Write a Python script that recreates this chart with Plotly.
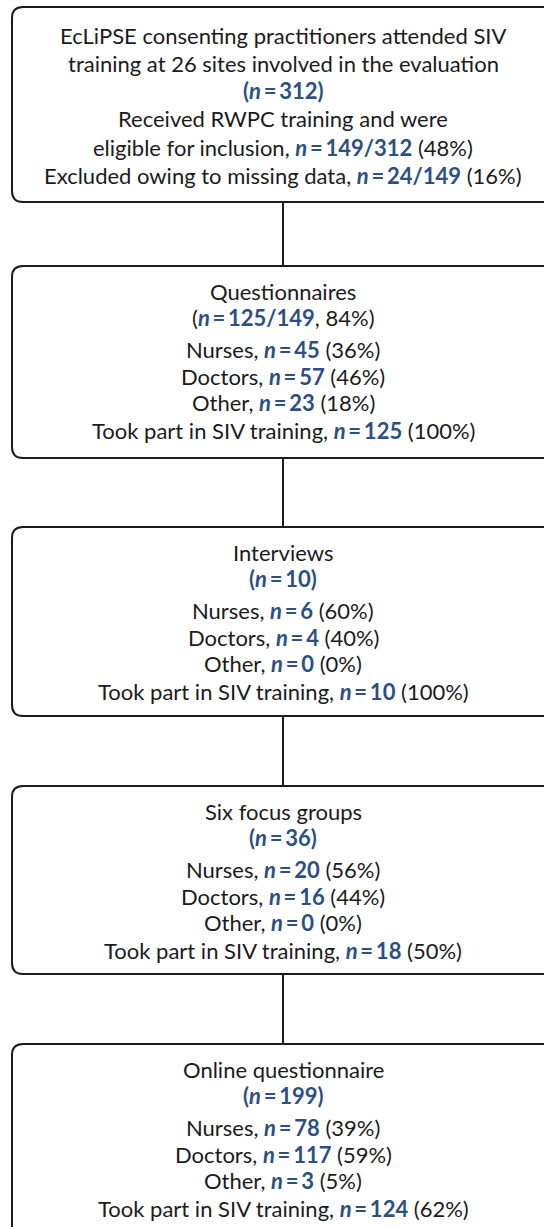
import plotly.graph_objects as go

# ---------------- data ----------------
intro_lines = ["EcLiPSE consenting practitioners attended SIV",
               "training at 26 sites involved in the evaluation"]
total_n = "312"
eligible_n = "149/312"
eligible_pct = 48
excluded_n = "24/149"
excluded_pct = 16

stage_titles = ["Questionnaires", "Interviews", "Six focus groups", "Online questionnaire"]
stage_n = ["125/149", "10", "36", "199"]
stage_pct = [84, None, None, None]
roles = ["Nurses", "Doctors", "Other"]
role_n = [[45, 57, 23], [6, 4, 0], [20, 16, 0], [78, 117, 3]]
role_pct = [[36, 46, 18], [60, 40, 0], [56, 44, 0], [39, 59, 5]]
siv_n = [125, 10, 18, 124]
siv_pct = [100, 100, 50, 62]

# ---------------- style / layout ----------------
W, H = 544, 1227
BLUE = "#2c4f86"
INK = "#1b1b1b"
FONT = "Lato"
FS = 22
CX = 283
BOX_L, BOX_R = 12, 580
RADIUS = 11
box_tops = [7, 266, 527, 786, 1044]
box_bots = [202, 458, 716, 974, 1260]
intro_offsets = [28, 56, 83, 111, 140, 168]
stage_offsets = [25, 51.5, 83.5, 110, 136.5, 164.5]

HS = "\u2009"


def nb(val):
    return f"<b><i>n</i>{HS}={HS}{val}</b>"


def blue(s):
    return f"<span style='color:{BLUE}'>{s}</span>"


def rrect(x0, y0, x1, y1, r):
    return (f"M {x0+r},{y0} L {x1-r},{y0} Q {x1},{y0} {x1},{y0+r} "
            f"L {x1},{y1-r} Q {x1},{y1} {x1-r},{y1} L {x0+r},{y1} "
            f"Q {x0},{y1} {x0},{y1-r} L {x0},{y0+r} Q {x0},{y0} {x0+r},{y0} Z")


box_lines = []
first = list(intro_lines) + [
    blue(f"<b>(</b>{nb(total_n)}<b>)</b>"),
    "Received RWPC training and were",
    f"eligible for inclusion, {blue(nb(eligible_n))} ({eligible_pct}%)",
    f"Excluded owing to missing data, {blue(nb(excluded_n))} ({excluded_pct}%)",
]
box_lines.append(first)
for i, t in enumerate(stage_titles):
    lines = [t]
    if stage_pct[i] is not None:
        lines.append(f"({blue(nb(stage_n[i]))}, {stage_pct[i]}%)")
    else:
        lines.append(blue(f"<b>(</b>{nb(stage_n[i])}<b>)</b>"))
    for r, nn, pp in zip(roles, role_n[i], role_pct[i]):
        lines.append(f"{r}, {blue(nb(nn))} ({pp}%)")
    lines.append(f"Took part in SIV training, {blue(nb(siv_n[i]))} ({siv_pct[i]}%)")
    box_lines.append(lines)

fig = go.Figure()
fig.add_trace(go.Scatter(x=[0, W], y=[0, H], mode="markers",
                         marker=dict(opacity=0), hoverinfo="skip", showlegend=False))

shapes = []
annotations = []
for b, lines in enumerate(box_lines):
    top, bot = box_tops[b], box_bots[b]
    shapes.append(dict(type="path", path=rrect(BOX_L, top, BOX_R, bot, RADIUS),
                       line=dict(color=INK, width=2), fillcolor="rgba(0,0,0,0)",
                       xref="x", yref="y"))
    offs = intro_offsets if b == 0 else stage_offsets
    for ln, off in zip(lines, offs):
        annotations.append(dict(x=CX, y=top + off, xref="x", yref="y", text=ln,
                                showarrow=False, xanchor="center", yanchor="middle",
                                font=dict(family=FONT, size=FS, color=INK)))
    if b < len(box_lines) - 1:
        shapes.append(dict(type="line", x0=CX, x1=CX, y0=bot, y1=box_tops[b + 1],
                           line=dict(color=INK, width=2), xref="x", yref="y"))

fig.update_layout(
    width=W, height=H, margin=dict(l=0, r=0, t=0, b=0),
    paper_bgcolor="white", plot_bgcolor="white",
    xaxis=dict(range=[0, W], visible=False, fixedrange=True),
    yaxis=dict(range=[H, 0], visible=False, fixedrange=True),
    shapes=shapes, annotations=annotations, showlegend=False,
)
fig.write_html("out.html", config={"displayModeBar": False},
               post_script="document.body.style.margin='0';document.body.style.overflow='hidden';")
